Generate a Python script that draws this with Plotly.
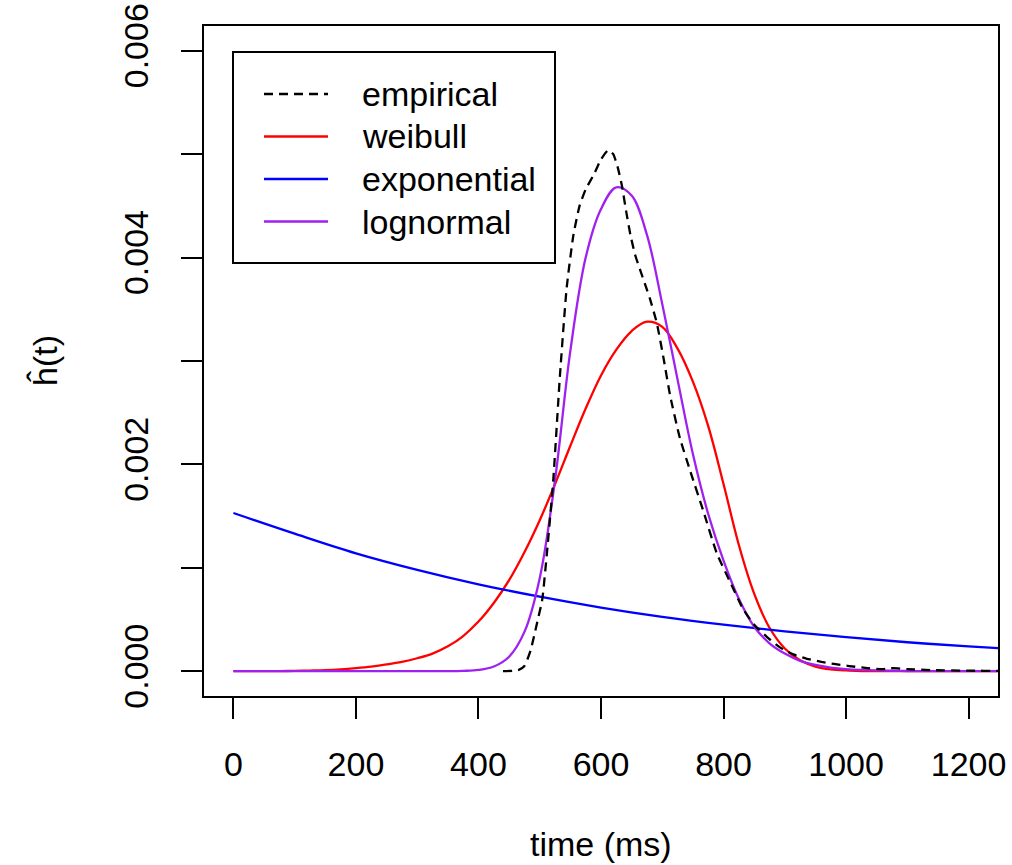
import plotly.graph_objects as go

# ---------------- data ----------------
# fitted model curves: time (ms) and value in units of 1e-3
t_model = [0, 25, 50, 75, 100, 125, 150, 175, 200, 225, 250, 275, 300, 325, 350,
           375, 400, 425, 450, 475, 500, 525, 550, 575, 600, 625, 650, 675, 700,
           725, 750, 775, 800, 825, 850, 875, 900, 925, 950, 975, 1000, 1025,
           1050, 1075, 1100, 1125, 1150, 1175, 1200, 1225, 1250, 1275]
weibull_e3 = [0, 0, 0, 0.001, 0.003, 0.006, 0.01, 0.018, 0.03, 0.045, 0.065, 0.09,
              0.125, 0.17, 0.24, 0.34, 0.48, 0.66, 0.88, 1.15, 1.46, 1.81, 2.18,
              2.54, 2.86, 3.11, 3.29, 3.38, 3.33, 3.12, 2.80, 2.37, 1.81, 1.22,
              0.75, 0.42, 0.22, 0.105, 0.045, 0.018, 0.007, 0.002, 0, 0, 0, 0, 0,
              0, 0, 0, 0, 0]
lognormal_e3 = [0, 0, 0, 0, 0, 0, 0, 0, 0, 0, 0, 0, 0, 0, 0, 0.003, 0.012, 0.045,
                0.14, 0.38, 0.90, 1.85, 3.10, 4.00, 4.47, 4.68, 4.60, 4.22, 3.55,
                2.82, 2.10, 1.52, 1.07, 0.70, 0.43, 0.27, 0.17, 0.10, 0.06, 0.035,
                0.02, 0.012, 0.007, 0.004, 0.002, 0, 0, 0, 0, 0, 0, 0]

t_exp = [0, 100, 200, 300, 400, 500, 600, 700, 800, 900, 1000, 1100, 1200, 1275]
exponential_e3 = [1.53, 1.33, 1.14, 0.98, 0.84, 0.72, 0.615, 0.525, 0.45, 0.385,
                  0.33, 0.28, 0.24, 0.215]

# empirical estimate (dashed)
t_emp = [440, 465, 475, 485, 495, 504, 512, 522, 533, 544, 555, 565, 575, 588,
         600, 612, 620, 627, 634, 641, 648, 656, 664, 672, 680, 691, 702, 713,
         729, 746, 767, 789, 811, 832, 850, 871, 892, 915, 936, 960, 980, 1005,
         1035, 1060, 1077, 1100, 1140, 1200, 1250, 1275]
empirical_e3 = [0, 0.01, 0.05, 0.20, 0.45, 0.69, 1.16, 1.84, 2.86, 3.71, 4.22,
                4.50, 4.66, 4.80, 4.95, 5.04, 5.00, 4.88, 4.70, 4.45, 4.22, 4.02,
                3.88, 3.74, 3.60, 3.37, 3.03, 2.66, 2.25, 1.93, 1.55, 1.14, 0.86,
                0.60, 0.45, 0.33, 0.23, 0.16, 0.12, 0.09, 0.07, 0.05, 0.03, 0.02,
                0.03, 0.02, 0.01, 0.005, 0.003, 0.003]

x_ticks = [0, 200, 400, 600, 800, 1000, 1200]
y_ticks = [0, 0.001, 0.002, 0.003, 0.004, 0.005, 0.006]
y_ticktext = ["0.000", "", "0.002", "", "0.004", "", "0.006"]

series_names = ["empirical", "weibull", "exponential", "lognormal"]
series_colors = ["black", "#FF0000", "#0000FF", "#A020F0"]

# ---------------- figure ----------------
W, H = 1012, 865
ML, MR, MT, MB = 204, 14, 26, 169
PW, PH = W - ML - MR, H - MT - MB
FONT = "Liberation Sans, Arial, Helvetica, sans-serif"
FS = 34
LW = 2.3


def sc(v):
    return [a / 1000.0 for a in v]


fig = go.Figure()
fig.add_trace(go.Scatter(x=t_model, y=sc(weibull_e3), mode="lines", name="weibull",
                         line=dict(color=series_colors[1], width=LW, shape="spline", smoothing=1.0)))
fig.add_trace(go.Scatter(x=t_exp, y=sc(exponential_e3), mode="lines", name="exponential",
                         line=dict(color=series_colors[2], width=LW, shape="spline", smoothing=1.0)))
fig.add_trace(go.Scatter(x=t_model, y=sc(lognormal_e3), mode="lines", name="lognormal",
                         line=dict(color=series_colors[3], width=LW, shape="spline", smoothing=1.0)))
fig.add_trace(go.Scatter(x=t_emp, y=sc(empirical_e3), mode="lines", name="empirical",
                         line=dict(color=series_colors[0], width=LW, dash="9px,6px",
                                   shape="spline", smoothing=0.5)))

axis_common = dict(showgrid=False, zeroline=False, showline=True, linecolor="black",
                   linewidth=2, mirror=True, ticks="outside", tickcolor="black",
                   tickwidth=2, ticklen=21, automargin=False,
                   tickfont=dict(family=FONT, size=FS, color="black"))

fig.update_xaxes(range=[-48, 1248], tickvals=x_ticks,
                 ticktext=[str(v) for v in x_ticks], ticklabelstandoff=16,
                 **axis_common)
fig.update_yaxes(range=[-0.00024, 0.00624], tickvals=y_ticks, ticktext=y_ticktext,
                 tickangle=-90, ticklabelstandoff=19,
                 **axis_common)


def px2paper(px, py):
    return (px - ML) / PW, (H - MB - py) / PH


shapes = []
annotations = []
# axis titles
ax_x, ax_y = px2paper(601, 844)
annotations.append(dict(xref="paper", yref="paper", x=ax_x, y=ax_y, text="time (ms)",
                        showarrow=False, xanchor="center", yanchor="middle",
                        font=dict(family=FONT, size=FS, color="black")))
ay_x, ay_y = px2paper(45, 361)
annotations.append(dict(xref="paper", yref="paper", x=ay_x, y=ay_y, text="ĥ(t)",
                        showarrow=False, xanchor="center", yanchor="middle", textangle=-90,
                        font=dict(family=FONT, size=FS, color="black")))

# legend box
x0, y0 = px2paper(233, 263)
x1, y1 = px2paper(555, 52)
shapes.append(dict(type="rect", xref="paper", yref="paper", x0=x0, y0=y0, x1=x1, y1=y1,
                   line=dict(color="black", width=2), fillcolor="white", layer="above"))
row_y = [94, 136.5, 179, 221.5]
for name, col, ry in zip(series_names, series_colors, row_y):
    lx0, ly = px2paper(264, ry)
    lx1, _ = px2paper(328, ry)
    shapes.append(dict(type="line", xref="paper", yref="paper", x0=lx0, x1=lx1, y0=ly, y1=ly,
                       line=dict(color=col, width=LW,
                                 dash="9px,6px" if name == "empirical" else "solid"),
                       layer="above"))
    tx, ty = px2paper(360, ry)
    annotations.append(dict(xref="paper", yref="paper", x=tx, y=ty, text=name, showarrow=False,
                            xanchor="left", yanchor="middle",
                            font=dict(family=FONT, size=FS, color="black")))

fig.update_layout(width=W, height=H, margin=dict(l=ML, r=MR, t=MT, b=MB, autoexpand=False),
                  paper_bgcolor="white", plot_bgcolor="white", showlegend=False,
                  font=dict(family=FONT, size=FS, color="black"),
                  shapes=shapes, annotations=annotations)

fig.write_html("out.html")
